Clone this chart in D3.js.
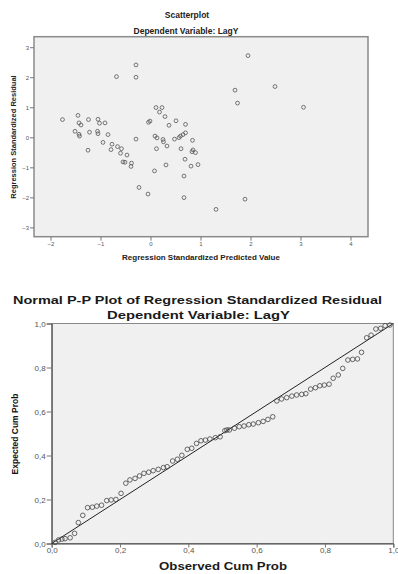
<!DOCTYPE html>
<html>
<head>
<meta charset="utf-8">
<script src="https://cdn.jsdelivr.net/npm/d3@7"></script>
<style>
  html, body { margin: 0; padding: 0; background: #fff; }
  svg { display: block; font-family: "Liberation Sans", Arial, sans-serif; }
  .tick text { fill: #555; }
  .tick line { stroke: #777; }
</style>
</head>
<body>
<svg id="chart" width="398" height="574"></svg>
<script>
// scatterplot: standardized predicted value vs standardized residual
const predicted = [-1.76, -1.45, -1.43, -1.39, -1.24, -1.05, -1.02, -0.91, -1.51, -1.43, -1.42, -1.22,
  -1.06, -1.05, -0.85, -0.95, -1.25, -0.77, -0.79, -0.66, -0.58, -0.60, -0.47, -0.55, -0.51, -0.38,
  -0.39, -0.68, -0.29, -0.29, -0.29, -0.23, -0.05, 0.08, -0.04, -0.01, 0.11, 0.23, 0.18, 0.29, 0.37,
  0.09, 0.13, 0.25, 0.26, 0.12, 0.33, 0.31, 0.51, 0.70, 0.48, 0.57, 0.60, 0.65, 0.70, 0.84, 0.61,
  0.85, 0.83, 0.90, 0.69, 0.81, 0.95, 0.67, 0.67, 1.31, 1.89, 1.95, 1.69, 1.74, 2.49, 3.06];
const residual = [0.59, 0.73, 0.48, 0.41, 0.59, 0.60, 0.47, 0.48, 0.20, 0.10, 0.04, 0.17,
  0.20, 0.12, 0.09, -0.17, -0.43, -0.23, -0.41, -0.31, -0.38, -0.53, -0.59, -0.82, -0.83, -0.86,
  -0.97, 2.02, 2.41, 2.00, -0.06, -1.67, -1.89, -1.12, 0.50, 0.54, 0.99, 0.99, 0.84, 0.69, 0.40,
  0.04, -0.02, -0.07, -0.15, -0.38, -0.29, -0.92, 0.55, 0.43, -0.06, -0.01, 0.04, 0.09, 0.15, -0.10, -0.38,
  -0.42, -0.48, -0.51, -0.73, -0.96, -0.91, -1.29, -2.01, -2.40, -2.06, 2.72, 1.57, 1.14, 1.69, 1.00];
const scatterXTicks = [-2, -1, 0, 1, 2, 3, 4];
const scatterYTicks = [-3, -2, -1, 0, 1, 2, 3];

// normal P-P plot
const observedCum = [0.010, 0.020, 0.030, 0.039, 0.054, 0.067, 0.078, 0.091, 0.105, 0.119, 0.132, 0.146,
  0.161, 0.174, 0.188, 0.203, 0.217, 0.229, 0.244, 0.257, 0.270, 0.284, 0.297, 0.312, 0.327, 0.338,
  0.354, 0.368, 0.381, 0.397, 0.410, 0.424, 0.437, 0.450, 0.463, 0.479, 0.493, 0.507, 0.513, 0.520,
  0.535, 0.549, 0.563, 0.577, 0.590, 0.605, 0.619, 0.633, 0.647, 0.659, 0.673, 0.688, 0.703, 0.717,
  0.732, 0.744, 0.758, 0.772, 0.785, 0.798, 0.812, 0.824, 0.839, 0.852, 0.867, 0.881, 0.895, 0.907,
  0.922, 0.935, 0.949, 0.963, 0.976, 0.990];
const expectedCum = [0.005, 0.016, 0.020, 0.022, 0.026, 0.046, 0.095, 0.128, 0.163, 0.165, 0.170, 0.174,
  0.195, 0.198, 0.200, 0.228, 0.274, 0.289, 0.296, 0.307, 0.319, 0.324, 0.331, 0.337, 0.345, 0.349,
  0.375, 0.383, 0.401, 0.428, 0.433, 0.455, 0.467, 0.470, 0.475, 0.481, 0.485, 0.513, 0.516, 0.516,
  0.524, 0.531, 0.534, 0.540, 0.543, 0.549, 0.555, 0.564, 0.576, 0.648, 0.657, 0.663, 0.670, 0.675,
  0.678, 0.681, 0.702, 0.708, 0.717, 0.720, 0.724, 0.751, 0.766, 0.796, 0.834, 0.837, 0.839, 0.869,
  0.935, 0.947, 0.975, 0.978, 0.990, 0.993];
const ppTicks = [0, 0.2, 0.4, 0.6, 0.8, 1.0];

const svg = d3.select('#chart');

// ---------- top: scatterplot ----------
const sx = d3.scaleLinear().domain([-2.33, 4.35]).range([34, 368]);
const sy = d3.scaleLinear().domain([-3.31, 3.35]).range([236.7, 36.7]);

svg.append('text').attr('x', 187).attr('y', 18).attr('text-anchor', 'middle')
  .attr('font-size', '8.5px').attr('font-weight', 'bold').attr('fill', '#222').text('Scatterplot');
svg.append('text').attr('x', 186).attr('y', 34).attr('text-anchor', 'middle')
  .attr('font-size', '8.5px').attr('font-weight', 'bold').attr('fill', '#222').text('Dependent Variable: LagY');

svg.append('rect')
  .attr('x', 34).attr('y', 36.7).attr('width', 334).attr('height', 200)
  .attr('fill', '#f0f0f0').attr('stroke', '#8a8a8a').attr('stroke-width', 1.5);

const sxAxis = svg.append('g').attr('transform', 'translate(0,236.7)')
  .call(d3.axisBottom(sx).tickValues(scatterXTicks).tickSize(4).tickPadding(1).tickFormat(d3.format('d')));
const syAxis = svg.append('g').attr('transform', 'translate(34,0)')
  .call(d3.axisLeft(sy).tickValues(scatterYTicks).tickSize(4).tickPadding(1).tickFormat(d3.format('d')));
[sxAxis, syAxis].forEach(a => {
  a.select('.domain').remove();
  a.selectAll('text').attr('font-size', '6px').attr('font-family', null);
});

svg.append('g')
  .selectAll('circle')
  .data(predicted)
  .enter().append('circle')
  .attr('cx', d => sx(d))
  .attr('cy', (d, i) => sy(residual[i]))
  .attr('r', 1.9)
  .attr('fill', 'none')
  .attr('stroke', '#555')
  .attr('stroke-width', 0.8);

svg.append('text').attr('x', 201).attr('y', 259.5).attr('text-anchor', 'middle')
  .attr('font-size', '8px').attr('font-weight', 'bold').attr('fill', '#222')
  .text('Regression Standardized Predicted Value');
svg.append('text').attr('transform', 'translate(16,137) rotate(-90)').attr('text-anchor', 'middle')
  .attr('font-size', '7.5px').attr('font-weight', 'bold').attr('fill', '#222')
  .text('Regression Standardized Residual');

// ---------- bottom: normal P-P plot ----------
const px = d3.scaleLinear().domain([0, 1]).range([51.7, 393.3]);
const py = d3.scaleLinear().domain([0, 1]).range([543.5, 323.5]);
const fmt = d => d.toFixed(1).replace('.', ',');

svg.append('text').attr('x', 197.5).attr('y', 304).attr('text-anchor', 'middle')
  .attr('font-size', '11px').attr('font-weight', 'bold').attr('fill', '#1a1a1a')
  .attr('textLength', 369).attr('lengthAdjust', 'spacingAndGlyphs')
  .text('Normal P-P Plot of Regression Standardized Residual');
svg.append('text').attr('x', 198.5).attr('y', 319).attr('text-anchor', 'middle')
  .attr('font-size', '11px').attr('font-weight', 'bold').attr('fill', '#1a1a1a')
  .attr('textLength', 183).attr('lengthAdjust', 'spacingAndGlyphs')
  .text('Dependent Variable: LagY');

svg.append('rect')
  .attr('x', 51.7).attr('y', 323.5).attr('width', 341.6).attr('height', 220)
  .attr('fill', '#f0f0f0').attr('stroke', '#888').attr('stroke-width', 1);

const pxAxis = svg.append('g').attr('transform', 'translate(0,543.5)')
  .call(d3.axisBottom(px).tickValues(ppTicks).tickSize(4).tickPadding(0).tickFormat(fmt));
const pyAxis = svg.append('g').attr('transform', 'translate(51.7,0)')
  .call(d3.axisLeft(py).tickValues(ppTicks).tickSize(5).tickPadding(1).tickFormat(fmt));
[pxAxis, pyAxis].forEach(a => {
  a.select('.domain').attr('stroke', '#444');
  a.selectAll('text').attr('font-size', '8px').attr('font-family', null);
});

svg.append('line')
  .attr('x1', px(0)).attr('y1', py(0)).attr('x2', px(1)).attr('y2', py(1))
  .attr('stroke', '#222').attr('stroke-width', 1);

svg.append('g')
  .selectAll('circle')
  .data(observedCum)
  .enter().append('circle')
  .attr('cx', d => px(d))
  .attr('cy', (d, i) => py(expectedCum[i]))
  .attr('r', 2.3)
  .attr('fill', 'none')
  .attr('stroke', '#444')
  .attr('stroke-width', 0.8);

svg.append('text').attr('x', 223).attr('y', 569.5).attr('text-anchor', 'middle')
  .attr('font-size', '11px').attr('font-weight', 'bold').attr('fill', '#1a1a1a')
  .attr('textLength', 128).attr('lengthAdjust', 'spacingAndGlyphs')
  .text('Observed Cum Prob');
svg.append('text').attr('transform', 'translate(18,434) rotate(-90)').attr('text-anchor', 'middle')
  .attr('font-size', '8.5px').attr('font-weight', 'bold').attr('fill', '#111')
  .text('Expected Cum Prob');
</script>
</body>
</html>
